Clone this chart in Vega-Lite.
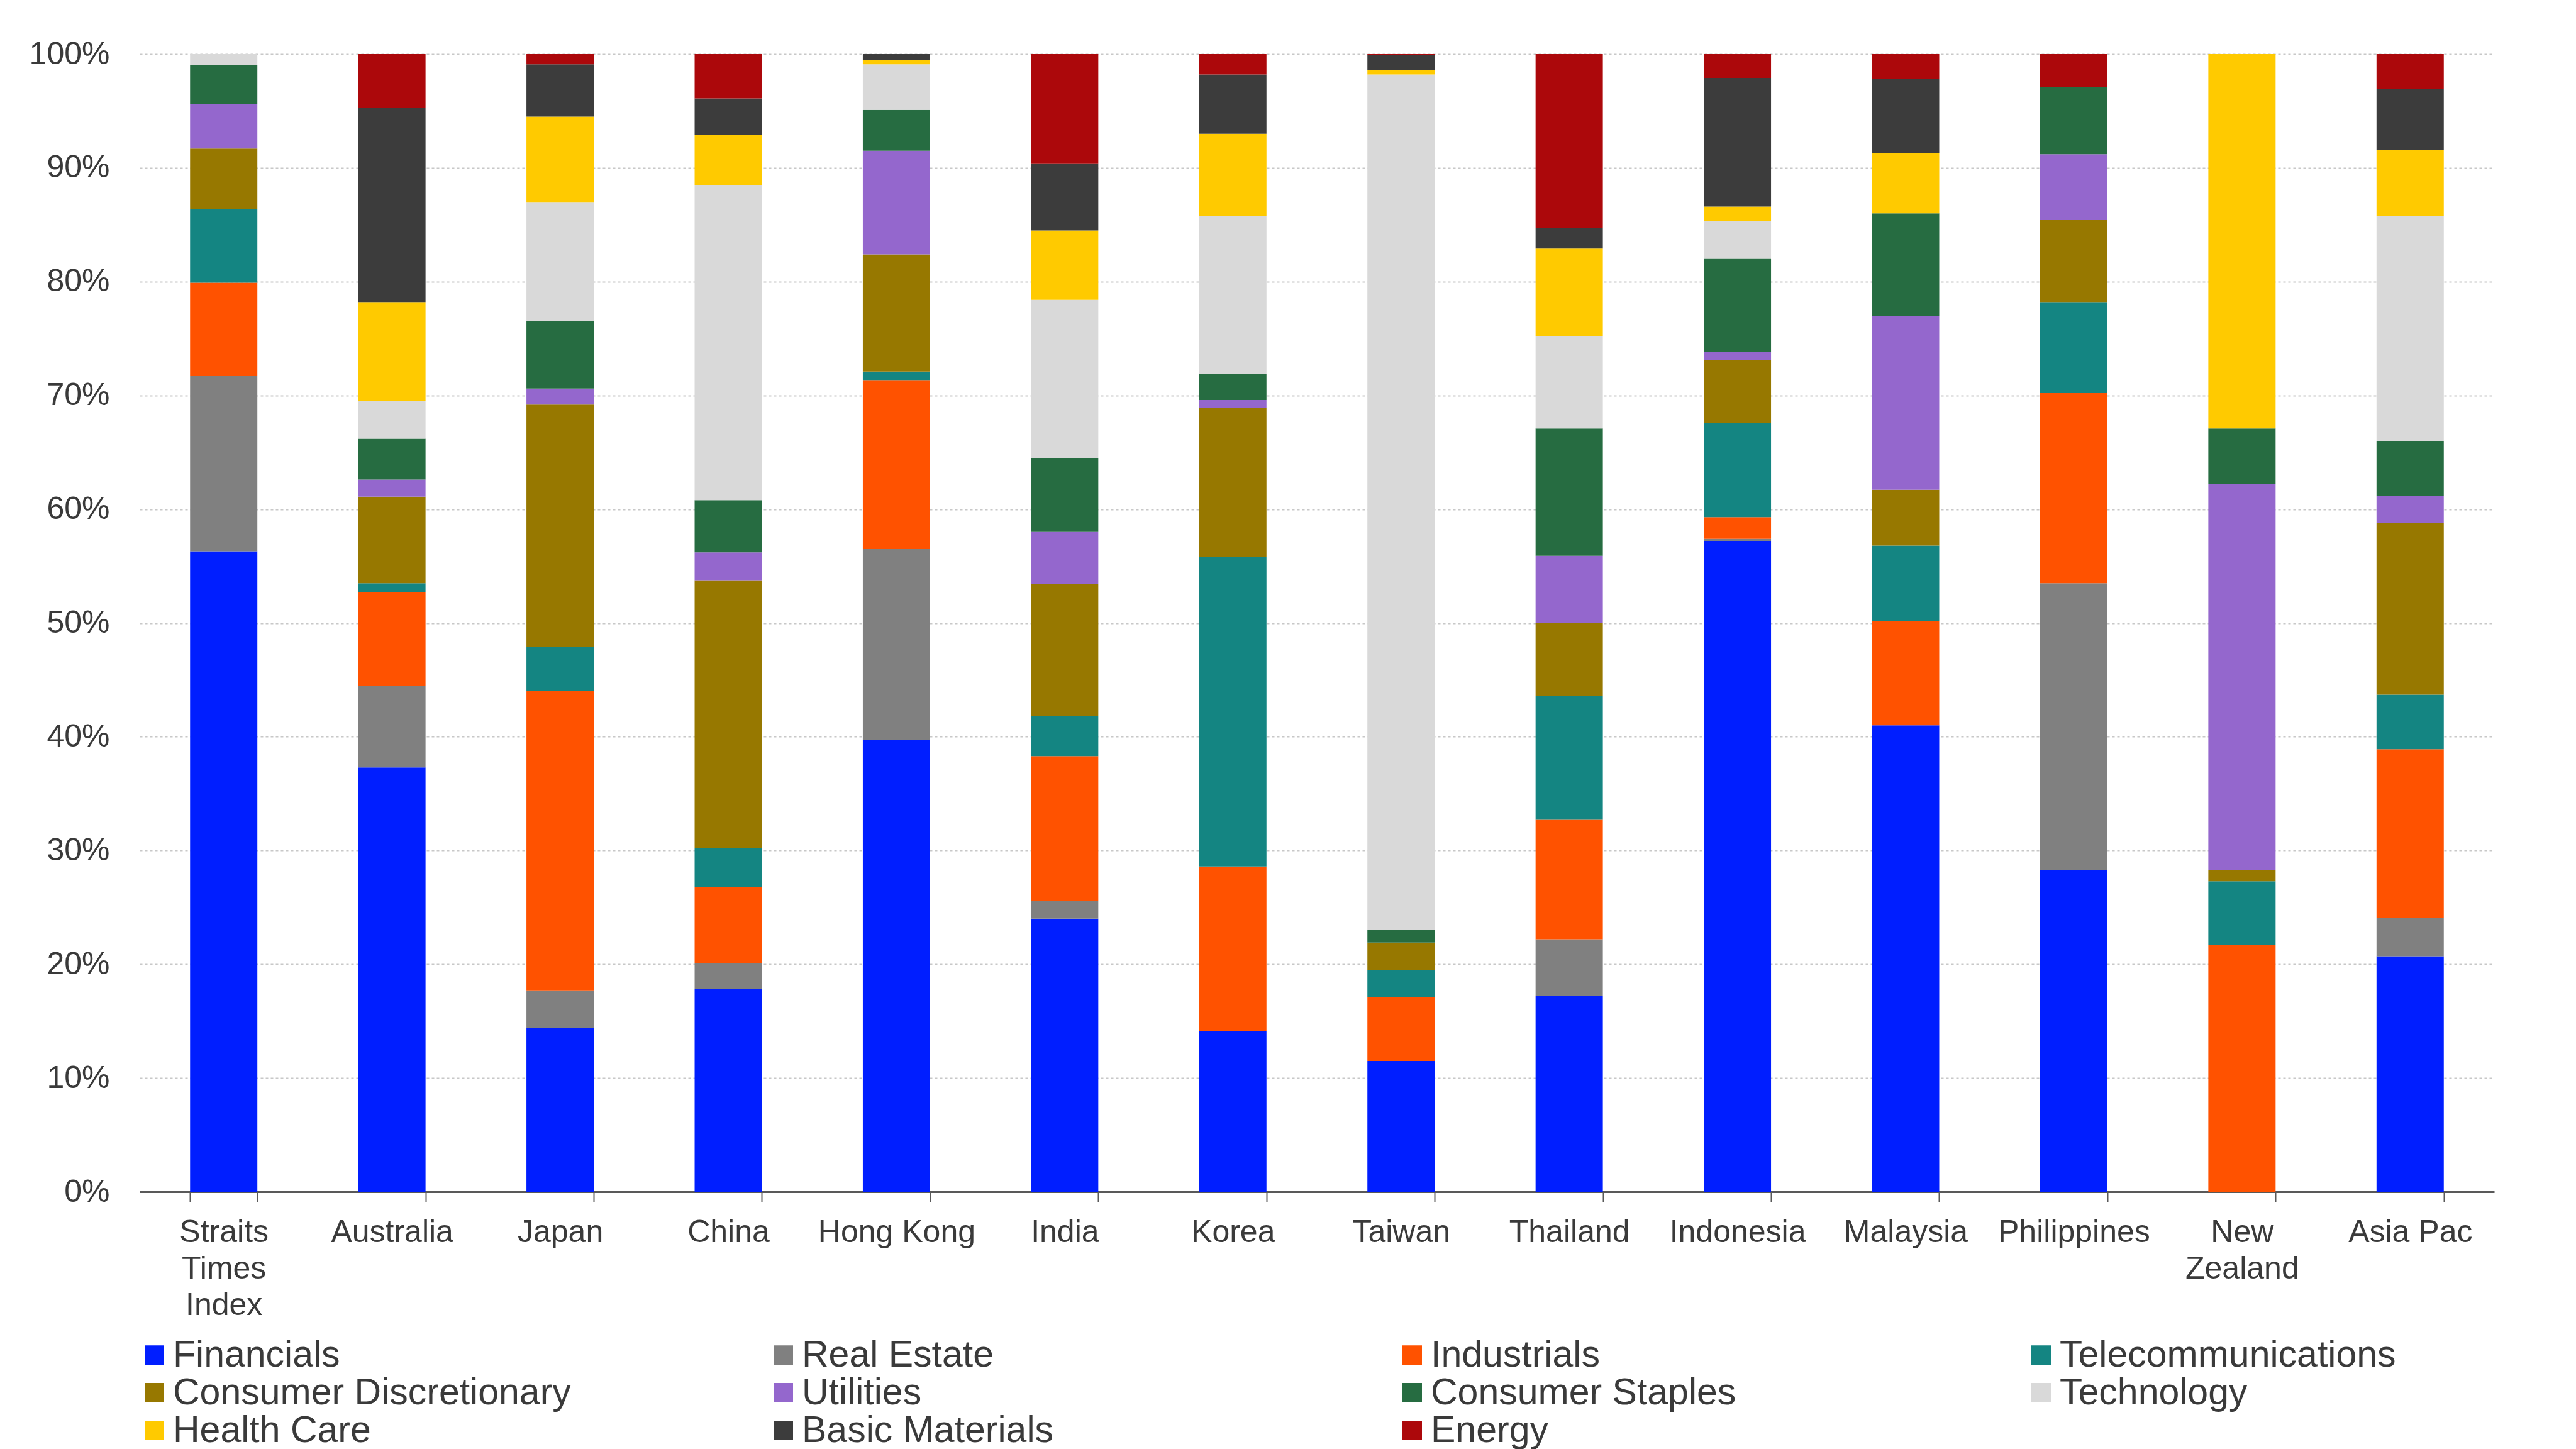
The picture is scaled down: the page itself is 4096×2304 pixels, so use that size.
{
  "$schema": "https://vega.github.io/schema/vega-lite/v6.json",
  "width": 3744,
  "height": 1809,
  "autosize": {"type": "none"},
  "padding": {"left": 222, "top": 86, "right": 130, "bottom": 409},
  "background": "white",
  "data": {
    "values": [
      {"Market": "Straits Times Index", "Financials": 56.3, "Real Estate": 15.4, "Industrials": 8.2, "Telecommunications": 6.5, "Consumer Discretionary": 5.3, "Utilities": 3.9, "Consumer Staples": 3.4, "Technology": 1.0, "Health Care": 0, "Basic Materials": 0, "Energy": 0},
      {"Market": "Australia", "Financials": 37.3, "Real Estate": 7.2, "Industrials": 8.2, "Telecommunications": 0.8, "Consumer Discretionary": 7.6, "Utilities": 1.5, "Consumer Staples": 3.6, "Technology": 3.3, "Health Care": 8.7, "Basic Materials": 17.1, "Energy": 4.7},
      {"Market": "Japan", "Financials": 14.4, "Real Estate": 3.3, "Industrials": 26.3, "Telecommunications": 3.9, "Consumer Discretionary": 21.3, "Utilities": 1.4, "Consumer Staples": 5.9, "Technology": 10.5, "Health Care": 7.5, "Basic Materials": 4.6, "Energy": 0.9},
      {"Market": "China", "Financials": 17.8, "Real Estate": 2.3, "Industrials": 6.7, "Telecommunications": 3.4, "Consumer Discretionary": 23.5, "Utilities": 2.5, "Consumer Staples": 4.6, "Technology": 27.7, "Health Care": 4.4, "Basic Materials": 3.2, "Energy": 3.9},
      {"Market": "Hong Kong", "Financials": 39.7, "Real Estate": 16.8, "Industrials": 14.8, "Telecommunications": 0.8, "Consumer Discretionary": 10.3, "Utilities": 9.1, "Consumer Staples": 3.6, "Technology": 4.0, "Health Care": 0.4, "Basic Materials": 0.5, "Energy": 0},
      {"Market": "India", "Financials": 24.0, "Real Estate": 1.6, "Industrials": 12.7, "Telecommunications": 3.5, "Consumer Discretionary": 11.6, "Utilities": 4.6, "Consumer Staples": 6.5, "Technology": 13.9, "Health Care": 6.1, "Basic Materials": 5.9, "Energy": 9.6},
      {"Market": "Korea", "Financials": 14.1, "Real Estate": 0, "Industrials": 14.5, "Telecommunications": 27.2, "Consumer Discretionary": 13.1, "Utilities": 0.7, "Consumer Staples": 2.3, "Technology": 13.9, "Health Care": 7.2, "Basic Materials": 5.2, "Energy": 1.8},
      {"Market": "Taiwan", "Financials": 11.5, "Real Estate": 0, "Industrials": 5.6, "Telecommunications": 2.4, "Consumer Discretionary": 2.4, "Utilities": 0, "Consumer Staples": 1.1, "Technology": 75.2, "Health Care": 0.4, "Basic Materials": 1.3, "Energy": 0.1},
      {"Market": "Thailand", "Financials": 17.2, "Real Estate": 5.0, "Industrials": 10.5, "Telecommunications": 10.9, "Consumer Discretionary": 6.4, "Utilities": 5.9, "Consumer Staples": 11.2, "Technology": 8.1, "Health Care": 7.7, "Basic Materials": 1.8, "Energy": 15.3},
      {"Market": "Indonesia", "Financials": 57.2, "Real Estate": 0.2, "Industrials": 1.9, "Telecommunications": 8.3, "Consumer Discretionary": 5.5, "Utilities": 0.7, "Consumer Staples": 8.2, "Technology": 3.3, "Health Care": 1.3, "Basic Materials": 11.3, "Energy": 2.1},
      {"Market": "Malaysia", "Financials": 41.0, "Real Estate": 0, "Industrials": 9.2, "Telecommunications": 6.6, "Consumer Discretionary": 4.9, "Utilities": 15.3, "Consumer Staples": 9.0, "Technology": 0, "Health Care": 5.3, "Basic Materials": 6.5, "Energy": 2.2},
      {"Market": "Philippines", "Financials": 28.3, "Real Estate": 25.2, "Industrials": 16.7, "Telecommunications": 8.0, "Consumer Discretionary": 7.2, "Utilities": 5.8, "Consumer Staples": 5.9, "Technology": 0, "Health Care": 0, "Basic Materials": 0, "Energy": 2.9},
      {"Market": "New Zealand", "Financials": 0, "Real Estate": 0, "Industrials": 21.7, "Telecommunications": 5.6, "Consumer Discretionary": 1.0, "Utilities": 33.9, "Consumer Staples": 4.9, "Technology": 0, "Health Care": 32.9, "Basic Materials": 0, "Energy": 0},
      {"Market": "Asia Pac", "Financials": 20.7, "Real Estate": 3.4, "Industrials": 14.8, "Telecommunications": 4.8, "Consumer Discretionary": 15.1, "Utilities": 2.4, "Consumer Staples": 4.8, "Technology": 19.8, "Health Care": 5.8, "Basic Materials": 5.3, "Energy": 3.1}
    ]
  },
  "transform": [
    {"fold": ["Financials", "Real Estate", "Industrials", "Telecommunications", "Consumer Discretionary", "Utilities", "Consumer Staples", "Technology", "Health Care", "Basic Materials", "Energy"], "as": ["Sector", "Weight"]},
    {"filter": "datum.Weight > 0"},
    {"calculate": "indexof(['Financials', 'Real Estate', 'Industrials', 'Telecommunications', 'Consumer Discretionary', 'Utilities', 'Consumer Staples', 'Technology', 'Health Care', 'Basic Materials', 'Energy'], datum.Sector)", "as": "stackOrder"}
  ],
  "mark": {"type": "bar"},
  "encoding": {
    "x": {
      "field": "Market",
      "type": "nominal",
      "sort": null,
      "title": null,
      "scale": {"paddingInner": 0.6, "paddingOuter": 0.3},
      "axis": {
        "labelAngle": 0,
        "tickBand": "extent",
        "labelFontSize": 50,
        "labelLineHeight": 58,
        "labelPadding": 23,
        "labelLimit": 600,
        "tickSize": 16,
        "tickWidth": 2,
        "tickColor": "#595959",
        "domainColor": "#595959",
        "domainWidth": 3,
        "labelBaseline": "top",
        "labelExpr": "datum.value == 'Straits Times Index' ? ['Straits', 'Times', 'Index'] : datum.value == 'New Zealand' ? ['New', 'Zealand'] : datum.value"
      }
    },
    "y": {
      "field": "Weight",
      "type": "quantitative",
      "stack": "normalize",
      "title": null,
      "scale": {"domain": [0, 1], "nice": false},
      "axis": {
        "format": ".0%",
        "values": [0, 0.1, 0.2, 0.3, 0.4, 0.5, 0.6, 0.7, 0.8, 0.9, 1],
        "domain": false,
        "ticks": false,
        "labelFontSize": 50,
        "labelPadding": 48,
        "gridColor": "#c8c8c8",
        "gridWidth": 2,
        "gridDash": [4, 4]
      }
    },
    "color": {
      "field": "Sector",
      "type": "nominal",
      "title": null,
      "scale": {
        "domain": ["Financials", "Real Estate", "Industrials", "Telecommunications", "Consumer Discretionary", "Utilities", "Consumer Staples", "Technology", "Health Care", "Basic Materials", "Energy"],
        "range": ["#001EFF", "#808080", "#FF5200", "#148582", "#977800", "#9467CD", "#266C41", "#D9D9D9", "#FFCA00", "#3C3C3C", "#AC080B"]
      },
      "legend": {
        "orient": "none",
        "legendX": -6,
        "legendY": 2039,
        "direction": "horizontal",
        "columns": 4,
        "gridAlign": "all",
        "columnPadding": 308,
        "rowPadding": 0,
        "symbolType": "square",
        "symbolSize": 961,
        "symbolStrokeWidth": 0,
        "labelFontSize": 59,
        "labelOffset": 0,
        "labelLimit": 1000,
        "padding": 0
      }
    },
    "order": {"field": "stackOrder", "type": "quantitative", "sort": "ascending"}
  },
  "config": {
    "font": "Liberation Sans",
    "view": {"stroke": null},
    "axis": {"labelColor": "#3a3a3a", "labelFont": "Liberation Sans"},
    "legend": {"labelColor": "#3a3a3a", "labelFont": "Liberation Sans"}
  }
}
